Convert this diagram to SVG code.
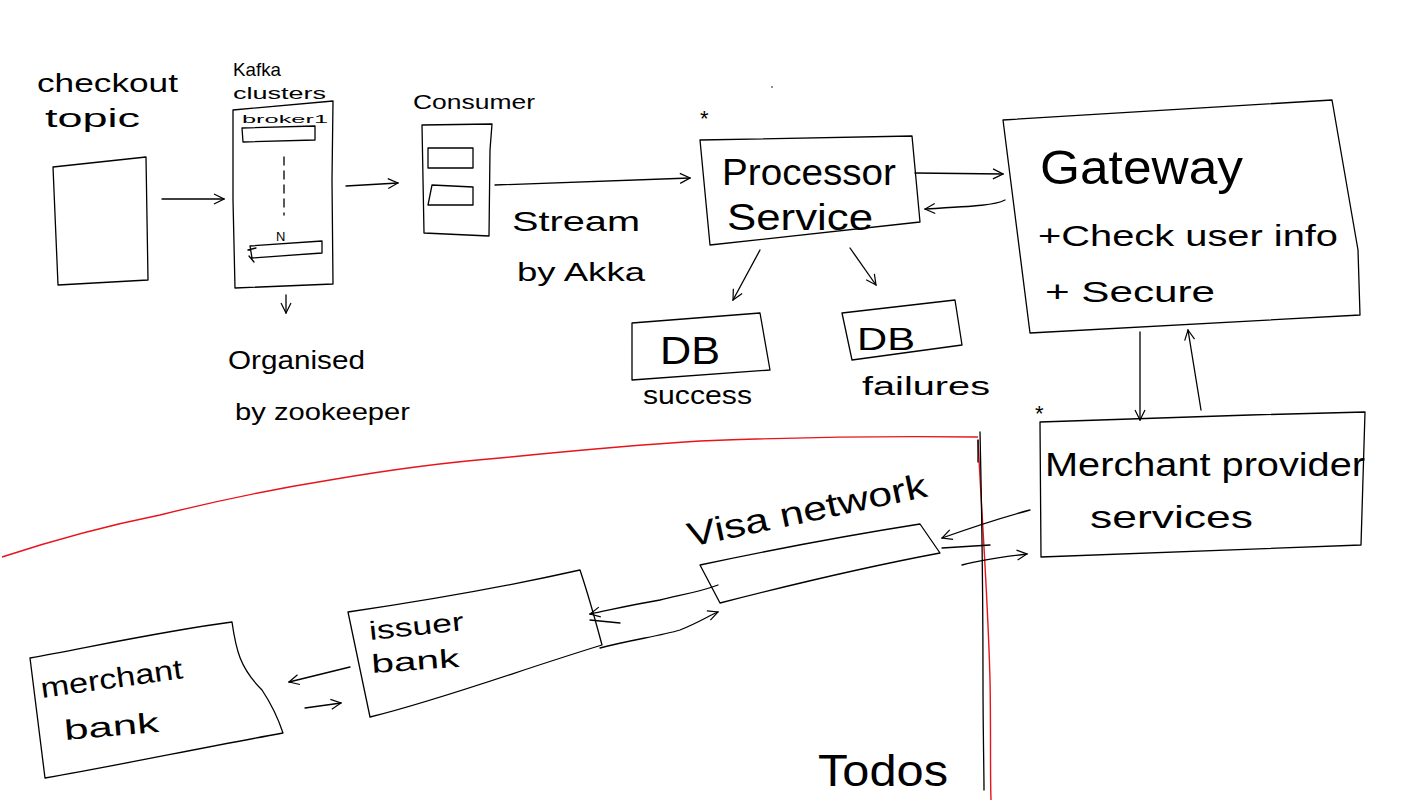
<svg xmlns="http://www.w3.org/2000/svg" width="1411" height="801" viewBox="0 0 1411 801">
<style>
.s{fill:none;stroke:#000;stroke-width:1.3;stroke-linejoin:round;stroke-linecap:round}
.r{fill:none;stroke:#e8141c;stroke-width:1.4;stroke-linejoin:round}
.t{font-family:"Liberation Sans",Arial,sans-serif;fill:#000;font-weight:normal}
</style>
<defs>
<marker id="ah" viewBox="0 0 12 12" refX="11" refY="6" markerWidth="12" markerHeight="12" markerUnits="userSpaceOnUse" orient="auto">
<path d="M1,1 L11,6 L1,11" fill="none" stroke="#000" stroke-width="1.2"/>
</marker>
</defs>
<rect width="1411" height="801" fill="#fff"/>

<g id="divider">
<path class="r" d="M2,557 C60,538 110,525 160,515 C220,500 280,488 330,480 C400,468 450,462 500,458 C600,448 650,444 700,441 C800,437 900,436 978,437"/>
<path class="r" d="M978,440 C982,520 988,600 990,680 C991,730 990,770 991,800"/>
<path class="s" d="M980,432 C982,520 983,600 983,680 C983,730 984,770 984,790"/>
<path class="s" d="M978,440 L978,462" stroke-width="2.5"/>
</g>

<g id="checkout-topic">
<text class="t" x="37" y="92" font-size="26" textLength="141" lengthAdjust="spacingAndGlyphs">checkout</text>
<text class="t" x="45" y="127" font-size="26" textLength="95" lengthAdjust="spacingAndGlyphs">topic</text>
<path class="s" d="M53,167 L146,157 L148,280 L58,285 Z"/>
</g>

<g id="kafka">
<text class="t" x="233" y="76" font-size="19" textLength="48" lengthAdjust="spacingAndGlyphs">Kafka</text>
<text class="t" x="233" y="99" font-size="16" textLength="93" lengthAdjust="spacingAndGlyphs">clusters</text>
<path class="s" d="M233,110 L333,101 L332,180 L333,284 L235,288 L233,200 Z"/>
<text class="t" x="242" y="123" font-size="11" textLength="86" lengthAdjust="spacingAndGlyphs">broker1</text>
<path class="s" d="M242,128 L315,126 L315,140 L243,142 Z"/>
<path class="s" d="M284,157 L284,215" stroke-dasharray="8,6"/>
<text class="t" x="276" y="241" font-size="13">N</text>
<path class="s" d="M250,246 L322,241 L322,253 L252,258 Z M248,250 L256,248 M249,256 L254,262"/>
</g>

<g id="zookeeper">
<text class="t" x="228" y="369" font-size="26" textLength="137" lengthAdjust="spacingAndGlyphs">Organised</text>
<text class="t" x="235" y="420" font-size="24" textLength="175" lengthAdjust="spacingAndGlyphs">by zookeeper</text>
</g>

<g id="consumer">
<text class="t" x="413" y="109" font-size="20" textLength="122" lengthAdjust="spacingAndGlyphs">Consumer</text>
<path class="s" d="M422,125 L492,124 L490,150 L489,236 L424,233 Z"/>
<path class="s" d="M428,148 L473,148 L473,168 L428,168 Z"/>
<path class="s" d="M432,185 L473,187 L473,205 L428,205 Z"/>
<text class="t" x="512" y="231" font-size="28" textLength="128" lengthAdjust="spacingAndGlyphs">Stream</text>
<text class="t" x="517" y="281" font-size="26" textLength="128" lengthAdjust="spacingAndGlyphs">by Akka</text>
</g>

<g id="processor">
<text class="t" x="700" y="126" font-size="22">*</text>
<path class="s" d="M700,140 L912,136 L920,222 L710,245 Z"/>
<text class="t" x="722" y="185" font-size="36" textLength="174" lengthAdjust="spacingAndGlyphs">Processor</text>
<text class="t" x="727" y="230" font-size="36" textLength="146" lengthAdjust="spacingAndGlyphs">Service</text>
</g>

<g id="db-success">
<path class="s" d="M632,323 L760,313 L770,370 L632,380 Z"/>
<text class="t" x="660" y="364" font-size="38" textLength="60" lengthAdjust="spacingAndGlyphs">DB</text>
<text class="t" x="643" y="404" font-size="26" textLength="109" lengthAdjust="spacingAndGlyphs">success</text>
</g>

<g id="db-failures">
<path class="s" d="M842,313 L955,300 L962,345 L852,360 Z"/>
<text class="t" x="857" y="350" font-size="32" textLength="58" lengthAdjust="spacingAndGlyphs">DB</text>
<text class="t" x="862" y="395" font-size="26" textLength="128" lengthAdjust="spacingAndGlyphs">failures</text>
</g>

<g id="gateway">
<path class="s" d="M1003,120 L1332,100 L1358,250 L1360,315 L1030,333 Z"/>
<text class="t" x="1040" y="184" font-size="48" textLength="203" lengthAdjust="spacingAndGlyphs">Gateway</text>
<text class="t" x="1038" y="246" font-size="30" textLength="300" lengthAdjust="spacingAndGlyphs">+Check user info</text>
<text class="t" x="1045" y="302" font-size="30" textLength="170" lengthAdjust="spacingAndGlyphs">+ Secure</text>
</g>

<g id="merchant-provider">
<text class="t" x="1035" y="421" font-size="22">*</text>
<path class="s" d="M1040,422 L1250,415 L1365,412 L1361,545 L1041,557 Z"/>
<text class="t" x="1045" y="476" font-size="34" textLength="320" lengthAdjust="spacingAndGlyphs">Merchant provider</text>
<text class="t" x="1090" y="528" font-size="32" textLength="163" lengthAdjust="spacingAndGlyphs">services</text>
</g>

<g id="visa-network">
<text class="t" x="690" y="547" font-size="34" textLength="244" lengthAdjust="spacingAndGlyphs" transform="rotate(-12 690 547)">Visa network</text>
<path class="s" d="M700,565 C780,548 850,535 920,524 L940,553 C860,568 790,585 720,603 Z"/>
</g>

<g id="issuer-bank">
<path class="s" d="M348,612 C430,600 500,588 580,570 C590,600 598,630 602,645 C520,670 440,700 370,717 Z"/>
<text class="t" x="370" y="640" font-size="26" textLength="95" lengthAdjust="spacingAndGlyphs" transform="rotate(-6 370 640)">issuer</text>
<text class="t" x="372" y="673" font-size="26" textLength="88" lengthAdjust="spacingAndGlyphs" transform="rotate(-4 372 673)">bank</text>
</g>

<g id="merchant-bank">
<path class="s" d="M30,658 C100,645 170,630 232,622 C236,650 240,668 262,690 C272,705 278,718 283,733 C200,748 120,765 45,778 Z"/>
<text class="t" x="42" y="698" font-size="28" textLength="143" lengthAdjust="spacingAndGlyphs" transform="rotate(-8 42 698)">merchant</text>
<text class="t" x="65" y="740" font-size="28" textLength="95" lengthAdjust="spacingAndGlyphs" transform="rotate(-5 65 740)">bank</text>
</g>

<g id="todos">
<text class="t" x="818" y="786" font-size="44" textLength="130" lengthAdjust="spacingAndGlyphs">Todos</text>
</g>

<g id="connectors">
<path class="s" d="M162,199 L224,199" marker-end="url(#ah)"/>
<path class="s" d="M346,186 L398,183" marker-end="url(#ah)"/>
<path class="s" d="M286,295 L286,313" marker-end="url(#ah)"/>
<path class="s" d="M495,185 L690,178" marker-end="url(#ah)"/>
<path class="s" d="M915,173 L1003,174" marker-end="url(#ah)"/>
<path class="s" d="M1005,200 C995,205 980,206 925,209" marker-end="url(#ah)"/>
<path class="s" d="M760,250 L733,300" marker-end="url(#ah)"/>
<path class="s" d="M850,248 L876,285" marker-end="url(#ah)"/>
<path class="s" d="M1140,332 L1140,420" marker-end="url(#ah)"/>
<path class="s" d="M1201,410 L1188,330" marker-end="url(#ah)"/>
<path class="s" d="M1030,510 C1000,518 970,528 942,538" marker-end="url(#ah)"/>
<path class="s" d="M942,548 L990,545"/>
<path class="s" d="M962,565 C980,560 1000,557 1027,554" marker-end="url(#ah)"/>
<path class="s" d="M718,585 C700,592 680,595 660,600 C630,605 610,610 590,614" marker-end="url(#ah)"/>
<path class="s" d="M590,620 L620,623"/>
<path class="s" d="M600,648 C630,640 660,636 680,630 C700,622 710,615 718,612" marker-end="url(#ah)"/>
<path class="s" d="M350,667 L289,682" marker-end="url(#ah)"/>
<path class="s" d="M305,708 L341,703" marker-end="url(#ah)"/>
<circle cx="772" cy="87" r="0.8" fill="#000"/>
</g>
</svg>
